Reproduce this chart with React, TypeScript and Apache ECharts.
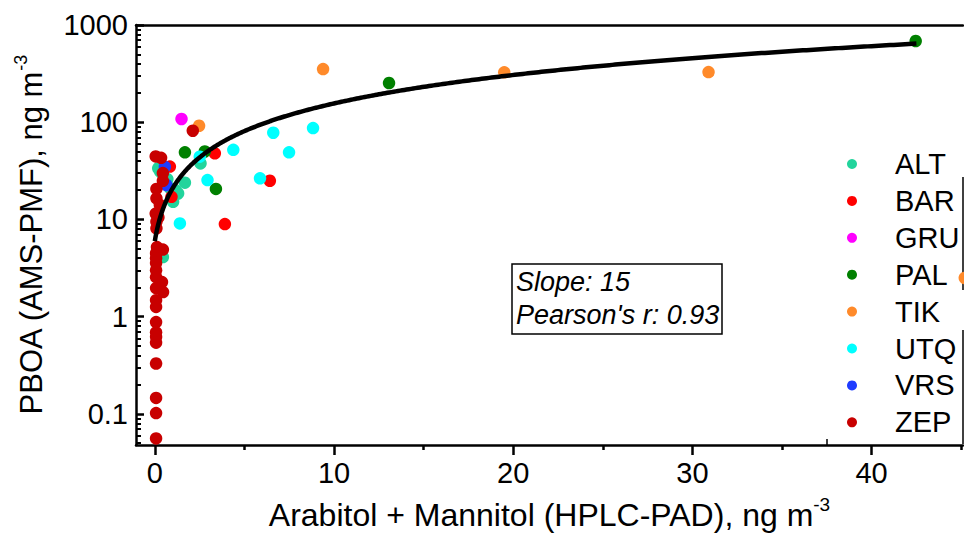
import React, { useEffect, useRef } from "react";
import * as echarts from "echarts";

// ---- data (x: Arabitol + Mannitol, ng m-3 ; y: PBOA, ng m-3) ----
const SITES = ["ALT", "BAR", "GRU", "PAL", "TIK", "UTQ", "VRS", "ZEP"];

const ALT: [number, number][] = [
  [2.55, 37.7], [1.68, 23.9], [1.3, 18.5], [1.02, 15.2], [0.19, 33.6], [0.45, 29],
  [0.7, 26], [0.85, 21], [1.15, 20], [0.95, 16.5], [0.45, 4.1], [0.3, 31],
];
const BAR: [number, number][] = [
  [3.35, 47.9], [6.42, 25], [3.91, 8.97], [0.84, 35], [0.93, 17.1],
];
const GRU: [number, number][] = [[1.49, 108]];
const PAL: [number, number][] = [
  [42.46, 684], [13.07, 253], [1.68, 49], [2.79, 50], [3.41, 20.6],
];
const TIK: [number, number][] = [
  [9.39, 352], [19.5, 326], [30.9, 328], [2.47, 92], [45.2, 2.5],
];
const UTQ: [number, number][] = [
  [8.83, 87], [6.61, 78], [7.49, 49], [4.38, 52], [5.87, 26.5], [2.94, 25.4],
  [1.4, 9.1], [2.51, 44.2],
];
const VRS: [number, number][] = [[0.56, 34.8], [0.65, 22.6]];
const ZEP: [number, number][] = [
  [2.12, 81.8], [0.05, 44.5], [0.35, 43], [0.45, 30], [0.45, 25], [0.09, 20.6],
  [0.09, 16.5], [0.28, 14.1], [0.05, 11.5], [0.2, 10.5], [0.09, 9.5], [0.09, 8.1],
  [0.12, 5.2], [0.45, 4.9], [0.07, 4.5], [0.07, 4.0], [0.07, 3.56], [0.07, 3.0],
  [0.07, 2.55], [0.4, 2.27], [0.07, 1.97], [0.46, 1.79], [0.07, 1.48], [0.07, 1.26],
  [0.07, 0.88], [0.07, 0.69], [0.07, 0.62], [0.07, 0.54], [0.07, 0.33],
  [0.07, 0.146], [0.07, 0.102], [0.07, 0.056],
];
const SITE_DATA = [ALT, BAR, GRU, PAL, TIK, UTQ, VRS, ZEP];

// regression line
const SLOPE = 15;
const INTERCEPT = 6;
const FIT_X_START = 0;
const FIT_X_END = 42.5;
const PEARSON_R = "0.93";

// axes
const X_MIN = -1.05;
const X_MAX = 45.1;
const X_MAJOR = [0, 10, 20, 30, 40];
const X_MINOR = [5, 15, 25, 35, 45];
const Y_MIN = 0.0479;
const Y_MAX = 1000;
const Y_TICK_VALUES = [0.1, 1, 10, 100, 1000];
const Y_TICK_LABELS = ["0.1", "1", "10", "100", "1000"];

const COLORS = ["#22d49c", "#ff0000", "#ff00ff", "#008000", "#ff8a2a", "#00ffff", "#1f3cff", "#c80000"];
const FONT = "'Liberation Sans', Arial, sans-serif";

export default function App() {
  const ref = useRef<HTMLDivElement>(null);
  useEffect(() => {
    if (!ref.current) return;
    const chart = echarts.init(ref.current, undefined, { renderer: "svg" });
    const lg = (v: number) => Math.log10(v);

    const yMinor: number[] = [];
    for (let p = -2; p <= 2; p++) {
      for (let k = 2; k <= 9; k++) {
        const v = k * Math.pow(10, p);
        if (v >= Y_MIN && v <= Y_MAX) yMinor.push(lg(v));
      }
    }

    const fit: number[][] = [];
    const steps = 400;
    for (let i = 0; i <= steps; i++) {
      const t = i / steps;
      const x = FIT_X_START + (FIT_X_END - FIT_X_START) * t * t;
      fit.push([x, lg(SLOPE * x + INTERCEPT)]);
    }

    const scatterSeries = SITES.map((name, i) => ({
      name,
      type: "scatter",
      xAxisIndex: 0,
      yAxisIndex: 0,
      symbol: "circle",
      symbolSize: 12.5,
      clip: false,
      itemStyle: { color: COLORS[i], opacity: 1 },
      data: SITE_DATA[i].map(([x, y]) => [x, lg(y)]),
      z: 2,
    }));

    const axisLine = { show: true, onZero: false, lineStyle: { color: "#000", width: 2.5 } };
    const noLine = { show: false, onZero: false };

    chart.setOption({
      animation: false,
      grid: { left: 136, right: 1, top: 25, bottom: 93 },
      xAxis: [
        {
          type: "value",
          min: X_MIN,
          max: X_MAX,
          position: "bottom",
          axisLine,
          splitLine: { show: false },
          axisTick: { show: true, customValues: X_MAJOR, length: 10, inside: false, lineStyle: { color: "#000", width: 2.5 } },
          axisLabel: {
            customValues: X_MAJOR,
            color: "#000",
            fontSize: 29,
            fontFamily: FONT,
            margin: 13,
            formatter: (v: number) => String(Math.round(v)),
          },
          name: "Arabitol + Mannitol (HPLC-PAD), ng m{sup|-3}",
          nameLocation: "middle",
          nameGap: 50,
          nameTextStyle: {
            color: "#000",
            fontSize: 32,
            fontFamily: FONT,
            rich: { sup: { fontSize: 19, fontFamily: FONT, color: "#000", padding: [0, 0, 20, 0] } },
          },
        },
        {
          type: "value",
          min: X_MIN,
          max: X_MAX,
          position: "bottom",
          axisLine: noLine,
          splitLine: { show: false },
          axisTick: { show: true, customValues: X_MINOR, length: 5, inside: false, lineStyle: { color: "#000", width: 2.5 } },
          axisLabel: { show: false },
        },
        {
          type: "value",
          min: X_MIN,
          max: X_MAX,
          position: "top",
          axisLine,
          splitLine: { show: false },
          axisTick: { show: false },
          axisLabel: { show: false },
        },
      ],
      yAxis: [
        {
          type: "value",
          min: lg(Y_MIN),
          max: lg(Y_MAX),
          position: "left",
          axisLine,
          splitLine: { show: false },
          axisTick: {
            show: true,
            customValues: Y_TICK_VALUES.map(lg),
            length: 8,
            inside: true,
            lineStyle: { color: "#000", width: 2.5 },
          },
          axisLabel: {
            customValues: Y_TICK_VALUES.map(lg),
            color: "#000",
            fontSize: 29,
            fontFamily: FONT,
            margin: 8,
            formatter: (v: number) => {
              const idx = Y_TICK_VALUES.findIndex((t) => Math.abs(lg(t) - v) < 1e-6);
              return idx >= 0 ? Y_TICK_LABELS[idx] : "";
            },
          },
          name: "PBOA (AMS-PMF), ng m{sup|-3}",
          nameLocation: "middle",
          nameRotate: 90,
          nameGap: 86,
          nameTextStyle: {
            color: "#000",
            fontSize: 31,
            fontFamily: FONT,
            rich: { sup: { fontSize: 18, fontFamily: FONT, color: "#000", padding: [0, 0, 20, 0] } },
          },
        },
        {
          type: "value",
          min: lg(Y_MIN),
          max: lg(Y_MAX),
          position: "left",
          axisLine: noLine,
          splitLine: { show: false },
          axisTick: { show: true, customValues: yMinor, length: 5, inside: true, lineStyle: { color: "#000", width: 2 } },
          axisLabel: { show: false },
        },
      ],
      legend: {
        data: SITES,
        orient: "vertical",
        left: 842,
        top: 144,
        padding: 5,
        icon: "circle",
        itemWidth: 10,
        itemHeight: 10,
        itemGap: 6.9,
        selectedMode: false,
        textStyle: { color: "#000", fontSize: 29, lineHeight: 30, fontFamily: FONT, padding: [0, 0, 0, 33] },
      },
      series: [
        ...scatterSeries,
        {
          name: "fit",
          type: "line",
          xAxisIndex: 0,
          yAxisIndex: 0,
          data: fit,
          showSymbol: false,
          symbol: "none",
          lineStyle: { color: "#000", width: 4.5 },
          z: 3,
          silent: true,
        },
      ],
      graphic: [
        {
          type: "rect",
          shape: { x: 512, y: 264, width: 210, height: 70 },
          style: { fill: "#fff", stroke: "#000", lineWidth: 1.5 },
          z: 10,
        },
        {
          type: "text",
          x: 516,
          y: 282,
          style: { text: `Slope: ${SLOPE}`, fontSize: 27, fontStyle: "italic", fontFamily: FONT, fill: "#000", verticalAlign: "middle" },
          z: 11,
        },
        {
          type: "text",
          x: 516,
          y: 315,
          style: { text: `Pearson's r: ${PEARSON_R}`, fontSize: 27, fontStyle: "italic", fontFamily: FONT, fill: "#000", verticalAlign: "middle" },
          z: 11,
        },
        { type: "line", shape: { x1: 963, y1: 177, x2: 963, y2: 290 }, style: { stroke: "#000", lineWidth: 1.5 } },
        { type: "line", shape: { x1: 963, y1: 330, x2: 963, y2: 444 }, style: { stroke: "#000", lineWidth: 1.5 } },
        { type: "line", shape: { x1: 827, y1: 439, x2: 827, y2: 445 }, style: { stroke: "#000", lineWidth: 1.5 } },
      ],
    });
    return () => chart.dispose();
  }, []);
  return (
    <div
      ref={ref}
      style={{ position: "fixed", left: 0, top: 0, width: 964, height: 538, background: "#fff" }}
    />
  );
}
